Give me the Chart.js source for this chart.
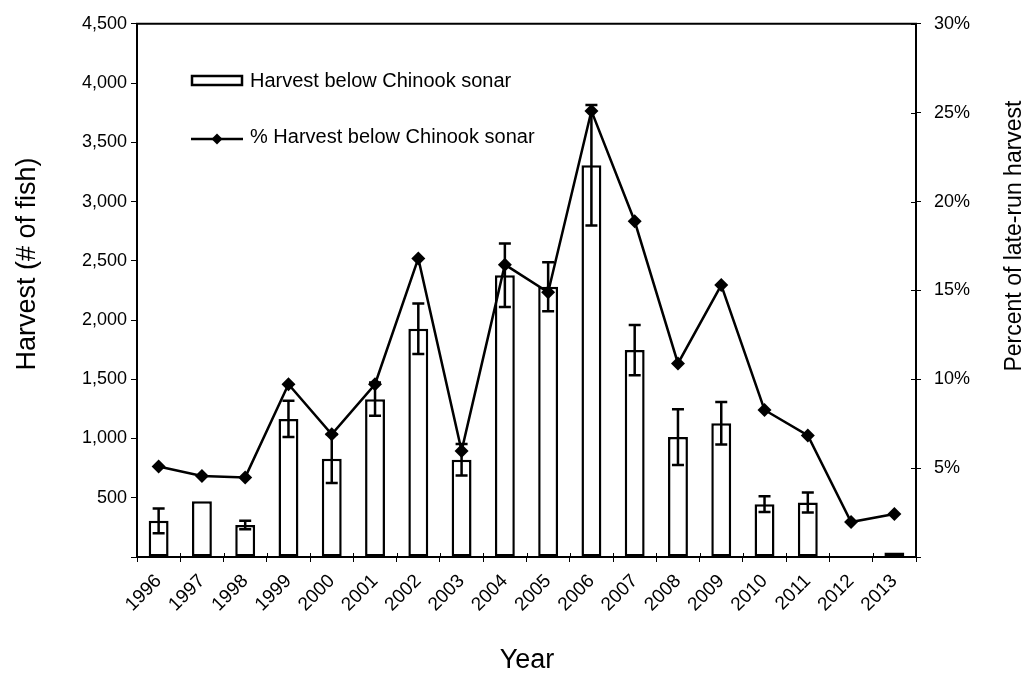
<!DOCTYPE html>
<html>
<head>
<meta charset="utf-8">
<script src="https://cdn.jsdelivr.net/npm/chart.js@4/dist/chart.umd.min.js"></script>
<style>
  html, body { margin: 0; padding: 0; background: #ffffff; }
  #wrap { width: 1029px; height: 675px; }
</style>
</head>
<body>
<div id="wrap"><canvas id="chart" width="1029" height="675"></canvas></div>
<script>
// Harvest below the Chinook sonar, 1996-2013
const years = ['1996','1997','1998','1999','2000','2001','2002','2003','2004','2005','2006','2007','2008','2009','2010','2011','2012','2013'];
const harvest = [305, 470, 270, 1165, 830, 1332, 1926, 820, 2378, 2281, 3306, 1746, 1012, 1129, 446, 460, 8, 39];
const harvestError = [105, 0, 35, 153, 205, 140, 213, 133, 268, 206, 508, 213, 235, 180, 67, 85, 0, 0];
const pctHarvest = [5.09, 4.56, 4.48, 9.72, 6.90, 9.72, 16.8, 5.97, 16.45, 14.89, 25.1, 18.89, 10.89, 15.3, 8.27, 6.84, 1.97, 2.42];
const harvestTicks = [0, 500, 1000, 1500, 2000, 2500, 3000, 3500, 4000, 4500];
const pctTicks = [0, 5, 10, 15, 20, 25, 30];

const FONT = "'Liberation Sans', Arial, sans-serif";
Chart.defaults.font.family = FONT;
Chart.defaults.color = '#000';

// error bars drawn right after the bar dataset
const errorBars = {
  id: 'errorBars',
  afterDatasetDraw(chart, args) {
    if (args.index !== 1) return;
    const ctx = chart.ctx;
    const y = chart.scales.y;
    ctx.save();
    ctx.strokeStyle = '#000';
    ctx.lineWidth = 2.5;
    args.meta.data.forEach((bar, i) => {
      const e = harvestError[i];
      if (!e) return;
      const x = bar.x;
      const yTop = y.getPixelForValue(harvest[i] + e);
      const yBot = y.getPixelForValue(harvest[i] - e);
      ctx.beginPath();
      ctx.moveTo(x, yTop); ctx.lineTo(x, yBot);
      ctx.moveTo(x - 6, yTop); ctx.lineTo(x + 6, yTop);
      ctx.moveTo(x - 6, yBot); ctx.lineTo(x + 6, yBot);
      ctx.stroke();
    });
    ctx.restore();
  }
};

// inner halves of the tick marks that cross the axes
const crossTicks = {
  id: 'crossTicks',
  afterDraw(chart) {
    const ctx = chart.ctx;
    const a = chart.chartArea;
    const x = chart.scales.x;
    const y1 = chart.scales.y1;
    ctx.save();
    ctx.strokeStyle = '#000';
    ctx.lineWidth = 1;
    ctx.beginPath();
    const n = chart.data.labels.length;
    for (let i = 0; i <= n; i++) {
      const px = Math.round(x.getPixelForValue(i - 0.5)) + 0.5;
      ctx.moveTo(px, a.bottom); ctx.lineTo(px, a.bottom - 4);
    }
    pctTicks.forEach(v => {
      const py = Math.round(y1.getPixelForValue(v)) + 0.5;
      ctx.moveTo(a.right, py); ctx.lineTo(a.right - 5, py);
    });
    ctx.stroke();
    ctx.restore();
  }
};

// frame top line, axis titles and the inset legend
const decorations = {
  id: 'decorations',
  afterDraw(chart) {
    const ctx = chart.ctx;
    const a = chart.chartArea;
    ctx.save();
    ctx.strokeStyle = '#000';
    ctx.lineWidth = 2;
    ctx.beginPath();
    ctx.moveTo(a.left - 1, a.top);
    ctx.lineTo(a.right + 1, a.top);
    ctx.stroke();

    ctx.fillStyle = '#000';
    ctx.textAlign = 'center';
    ctx.textBaseline = 'middle';
    ctx.save();
    ctx.font = '27px ' + FONT;
    ctx.translate(28, 264);
    ctx.rotate(-Math.PI / 2);
    ctx.fillText('Harvest (# of fish)', 0, 0);
    ctx.restore();
    ctx.save();
    ctx.font = '23px ' + FONT;
    ctx.translate(1015, 236);
    ctx.rotate(-Math.PI / 2);
    ctx.fillText('Percent of late-run harvest', 0, 0);
    ctx.restore();
    ctx.font = '27px ' + FONT;
    ctx.fillText('Year', 527, 661);

    // legend
    const barDs = chart.data.datasets[1];
    const lineDs = chart.data.datasets[0];
    ctx.lineWidth = 2.5;
    ctx.fillStyle = barDs.backgroundColor;
    ctx.strokeStyle = barDs.borderColor;
    ctx.fillRect(192, 76, 50, 9);
    ctx.strokeRect(192, 76, 50, 9);
    ctx.strokeStyle = lineDs.borderColor;
    ctx.beginPath();
    ctx.moveTo(191, 139); ctx.lineTo(243, 139);
    ctx.stroke();
    ctx.fillStyle = lineDs.pointBackgroundColor;
    ctx.beginPath();
    ctx.moveTo(217, 133.5); ctx.lineTo(222.5, 139); ctx.lineTo(217, 144.5); ctx.lineTo(211.5, 139);
    ctx.closePath();
    ctx.fill();
    ctx.fillStyle = '#000';
    ctx.textAlign = 'left';
    ctx.font = '20px ' + FONT;
    ctx.fillText(barDs.label, 250, 81);
    ctx.fillText(lineDs.label, 250, 137);
    ctx.restore();
  }
};

new Chart(document.getElementById('chart'), {
  data: {
    labels: years,
    datasets: [
      {
        type: 'line',
        label: '% Harvest below Chinook sonar',
        data: pctHarvest,
        yAxisID: 'y1',
        borderColor: '#000',
        borderWidth: 2.5,
        tension: 0,
        pointStyle: 'rectRot',
        pointRadius: 7,
        pointBackgroundColor: '#000',
        pointBorderColor: '#000',
        pointBorderWidth: 0,
        order: 0
      },
      {
        type: 'bar',
        label: 'Harvest below Chinook sonar',
        data: harvest,
        yAxisID: 'y',
        backgroundColor: '#ffffff',
        borderColor: '#000',
        borderWidth: 2.5,
        borderSkipped: false,
        categoryPercentage: 1,
        barPercentage: 0.46,
        order: 1
      }
    ]
  },
  options: {
    responsive: false,
    animation: false,
    devicePixelRatio: 1,
    layout: { padding: { top: 19, left: 0, right: 0, bottom: 0 } },
    plugins: { legend: { display: false }, tooltip: { enabled: false } },
    scales: {
      x: {
        type: 'category',
        offset: true,
        grid: { offset: true, drawOnChartArea: false, color: '#000', lineWidth: 1, tickLength: 5 },
        border: { display: true, color: '#000', width: 2 },
        ticks: { minRotation: 45, maxRotation: 45, autoSkip: false, padding: 8, font: { size: 19 } },
        afterFit(s) { s.height = 118; }
      },
      y: {
        position: 'left',
        min: 0, max: 4500,
        afterBuildTicks(s) { s.ticks = harvestTicks.map(v => ({ value: v })); },
        grid: { drawOnChartArea: false, color: '#000', lineWidth: 1, tickLength: 6 },
        border: { display: true, color: '#000', width: 2 },
        ticks: {
          padding: 4,
          font: { size: 18 },
          callback: v => v === 0 ? '' : v.toLocaleString('en-US')
        },
        afterFit(s) { s.width = 137; }
      },
      y1: {
        position: 'right',
        min: 0, max: 30,
        afterBuildTicks(s) { s.ticks = pctTicks.map(v => ({ value: v })); },
        grid: { drawOnChartArea: false, color: '#000', lineWidth: 1, tickLength: 5 },
        border: { display: true, color: '#000', width: 2 },
        ticks: {
          padding: 13,
          font: { size: 18 },
          callback: v => v === 0 ? '' : v + '%'
        },
        afterFit(s) { s.width = 113; }
      }
    }
  },
  plugins: [errorBars, crossTicks, decorations]
});
</script>
</body>
</html>
